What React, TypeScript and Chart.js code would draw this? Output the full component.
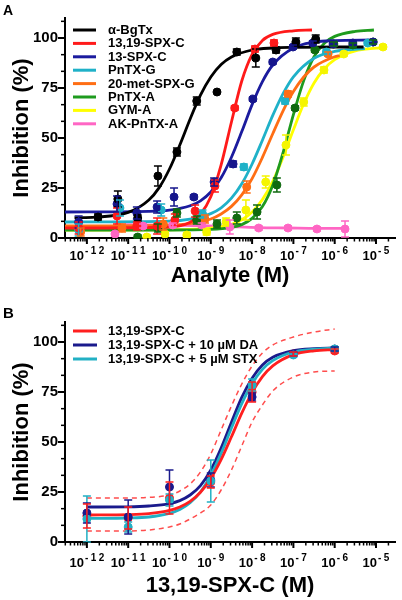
import React, { useEffect, useRef } from "react";
import { Chart, registerables } from "chart.js";

Chart.register(...registerables);

const FONT = "'Liberation Sans', Arial, Helvetica, sans-serif";

// ---------- shared axis values ----------
const xMinExp = -12.53;
const xMaxExp = -4.54;
const xTickExponents = [-12, -11, -10, -9, -8, -7, -6, -5];
const yTickValues = [0, 25, 50, 75, 100];
const yMinorStep = 25 / 3;
const yMax = 110;

// ---------- Panel A (x values are log10 of molar concentration) ----------
const seriesNamesA = ["α-BgTx", "13,19-SPX-C", "13-SPX-C", "PnTX-G", "20-met-SPX-G", "PnTX-A", "GYM-A", "AK-PnTX-A"];
const lineColorsA = ["#000000", "#ff1a1a", "#1b1b9e", "#1fb1c8", "#ff6e14", "#1e9b1e", "#ffff00", "#ff66c4"];
const pointColorsA = ["#000000", "#ff1a1a", "#16168c", "#1fb1c8", "#ff6e14", "#106a10", "#f5f500", "#ff66c4"];

// α-BgTx
const bgtxLogX = [-11.73, -11.25, -10.77, -10.28, -9.82, -9.34, -8.85, -8.37, -7.91, -7.42, -6.94, -6.46];
const bgtxY = [10.5, 19.5, 10, 31, 43, 68.5, 73, 93, 90, 94, 98, 99.5];
const bgtxErr = [1.5, 4, 1.5, 5, 2, 2, 0, 1.5, 4.5, 1.5, 2, 2];
const bgtxFitLogX = [-12.3, -11.8, -11, -10.5, -10.25, -10, -9.75, -9.5, -9.25, -9, -8.75, -8.5, -8, -7.5, -7, -6, -5.3];
const bgtxFitY = [10.1, 10.4, 12.8, 19, 25.2, 34.5, 46.5, 59.5, 71.4, 80.5, 86.7, 90.5, 94, 95, 95.3, 95.5, 95.5];

// 13,19-SPX-C
const spx1319LogX = [-12.2, -11.27, -10.79, -10.3, -9.87, -9.38, -8.9, -8.42, -7.93, -7.47];
const spx1319Y = [5, 11, 6, 6, 9, 13.5, 26, 65, 94.5, 97.5];
const spx1319Err = [3, 4, 2, 4, 3, 3, 3, 1, 1.5, 1.5];
const spx1319FitLogX = [-12.53, -10, -9.5, -9.25, -9, -8.75, -8.5, -8.25, -8, -7.75, -7.5, -7, -6.55];
const spx1319FitY = [5, 5.5, 7.9, 11.9, 20.6, 36.6, 58, 78.5, 91.8, 98.8, 101.8, 103.6, 104];

// 13-SPX-C
const spx13LogX = [-12.2, -11.27, -10.79, -10.3, -9.89, -9.41, -8.92, -8.46, -7.98, -7.5, -7.01, -6.53, -6.04, -5.56, -5.07];
const spx13Y = [8, 17, 12.5, 15.5, 20.5, 20.5, 28, 37, 69.5, 88, 95.5, 97.5, 97, 97.5, 98];
const spx13Err = [3, 4, 3, 3, 4.5, 1, 2, 1.5, 1, 1, 1, 1, 1, 1, 1];
const spx13FitLogX = [-12.53, -10.5, -10, -9.5, -9.25, -9, -8.75, -8.5, -8.25, -8, -7.75, -7.5, -7, -6.5, -6, -5.05];
const spx13FitY = [13, 13.3, 13.9, 16.1, 18.6, 23, 30.1, 40.4, 53.2, 66.7, 78.2, 86.5, 95, 97.9, 98.7, 99];

// PnTX-G
const pntxgLogX = [-12.2, -11.2, -10.2, -9.2, -8.2, -7.2, -6.2, -5.2];
const pntxgY = [4, 15, 14, 12, 35.5, 68.5, 93, 97.5];
const pntxgErr = [3, 4, 3, 2, 1.5, 1.5, 1, 1];
const pntxgFitLogX = [-12.53, -10, -9.5, -9, -8.75, -8.5, -8.25, -8, -7.75, -7.5, -7.25, -7, -6.5, -6, -5.27];
const pntxgFitY = [8, 8.4, 9.4, 12.2, 15.1, 19.9, 27.1, 37, 48.9, 61.3, 72.2, 80.6, 89.9, 93.3, 94.7];

// 20-met-SPX-G
const metspxLogX = [-12.15, -11.15, -10.15, -9.14, -8.13, -7.13, -6.16];
const metspxY = [3, 5, 7, 9.5, 25.5, 72, 92];
const metspxErr = [2, 2, 3, 2, 3, 1.5, 1];
const metspxFitLogX = [-12.53, -10, -9.5, -9, -8.75, -8.5, -8.25, -8, -7.75, -7.5, -7.25, -7, -6.75, -6.5, -6, -5.87];
const metspxFitY = [6, 6.4, 7.2, 9.5, 12, 15.8, 21.6, 29.7, 40.3, 52.1, 63.6, 73.2, 80.5, 85.5, 90.6, 91.2];

// PnTX-A
const pntxaLogX = [-10.77, -10.28, -9.82, -9.34, -8.85, -8.37, -7.88, -7.4, -6.96, -6.48, -6.02, -5.56, -5.07];
const pntxaY = [0.5, 5, 12.5, 9, 7, 10, 13, 26.5, 65, 94, 97, 96.5, 98];
const pntxaErr = [1, 2, 2, 2, 2, 3, 3.5, 3.5, 1, 1, 1, 1, 1];
const pntxaFitLogX = [-12.53, -10, -9, -8.5, -8.25, -8, -7.75, -7.5, -7.25, -7, -6.75, -6.5, -6.25, -6, -5.5, -5.05];
const pntxaFitY = [4, 4, 4.3, 5.3, 6.7, 9.8, 15.7, 26.4, 42.7, 61.7, 78.7, 90.6, 97.4, 100.8, 103.3, 104];

// GYM-A
const gymaLogX = [-10.55, -10.11, -9.58, -9.1, -8.63, -8.15, -7.67, -7.18, -6.75, -6.26, -5.78, -4.83];
const gymaY = [0.5, 2, 1.5, 3, 8, 14, 28, 46.5, 68, 84, 92, 95.5];
const gymaErr = [1, 1, 1, 1.5, 2, 5, 3, 5, 2, 1.5, 1, 1];
const gymaFitLogX = [-12.53, -10, -9, -8.5, -8.25, -8, -7.75, -7.5, -7.25, -7, -6.75, -6.5, -6.25, -6, -5.5, -5, -4.83];
const gymaFitY = [4, 4.1, 4.9, 6.8, 9.1, 13, 19.2, 28.3, 40.4, 54.1, 67.1, 77.5, 84.6, 89.2, 93.6, 94.9, 95.2];

// AK-PnTX-A
const akLogX = [-11.32, -10.64, -9.92, -9.22, -8.54, -7.84, -7.13, -6.43, -5.75];
const akY = [2, 6, 6.5, 6.5, 5.5, 5, 5, 4.5, 4.5];
const akErr = [1, 1, 1, 1, 3.5, 1, 1, 1, 4];
const akLineY = [6.8, 6.6, 6.4, 6.2, 5.7, 5.2, 5, 4.8, 4.8];

// ---------- Panel B ----------
const seriesNamesB = ["13,19-SPX-C", "13,19-SPX-C + 10 µM DA", "13,19-SPX-C + 5 µM STX"];
const colorsB = ["#ff1f1f", "#1a1a8c", "#22b0c4"];
const bandColorB = "#ff4d4d";
const logXB = [-12, -11, -10, -9, -8, -7, -6];
const ctrlY = [13, 12, 22, 30, 75, 94, 95.5];
const ctrlErr = [6, 5.5, 8, 3, 5, 1, 1];
const daY = [14.5, 12.5, 27.5, 31, 72.5, 94, 96.5];
const daErr = [5, 8.5, 8.5, 3.5, 2, 1, 1];
const stxY = [11.5, 7.5, 21, 30.5, 78.5, 93.5, 96.5];
const stxErr = [11.5, 2.5, 3, 10.5, 3, 1, 1];
const fitLogXB = [-12, -11, -10.5, -10, -9.75, -9.5, -9.25, -9, -8.75, -8.5, -8.25, -8, -7.75, -7.5, -7, -6.5, -6];
const ctrlFitY = [13.5, 13.7, 14.2, 15.8, 17.5, 20.3, 24.9, 31.8, 41.2, 52.6, 64.4, 74.8, 82.7, 88.1, 93.7, 95.6, 96.2];
const daFitY = [17.5, 17.6, 18, 19.2, 20.7, 23.5, 28.2, 36, 47, 59.9, 72.3, 81.9, 88.5, 92.4, 95.7, 96.7, 97];
const stxFitY = [11.8, 12, 12.5, 14.3, 16.2, 19.6, 25, 33.4, 44.3, 57, 69.2, 79.1, 86.3, 90.7, 95, 96.4, 97];
const upperBandY = [22, 22, 22.3, 23.5, 25.5, 29, 35, 44, 56, 68, 79, 88, 94.5, 98.5, 102.5, 105, 106.5];
const lowerBandY = [5.5, 5.5, 6, 7.5, 9, 11.5, 14.5, 18.5, 26, 36, 48, 60, 68.5, 75.5, 82.5, 85, 85.5];

// ---------- helpers ----------
const toPts = (ex: number[], ys: number[]) => ex.map((e, i) => ({ x: Math.pow(10, e), y: ys[i] }));

function curve(label: string, ex: number[], ys: number[], color: string, order = 2, dash: number[] = [], width = 2.8) {
  return {
    label, data: toPts(ex, ys), showLine: true, borderColor: color, backgroundColor: color,
    borderWidth: width, borderDash: dash, pointRadius: 0, pointHoverRadius: 0,
    cubicInterpolationMode: "monotone", fill: false, order,
  };
}
function pts(label: string, ex: number[], ys: number[], errs: number[], color: string) {
  return {
    label, data: toPts(ex, ys), showLine: false, pointRadius: 4, pointHoverRadius: 4,
    backgroundColor: color, borderColor: color, pointBorderWidth: 1, order: 1, errs,
  };
}

const errorBarPlugin = {
  id: "errbars",
  afterDatasetsDraw(chart: any) {
    const { ctx } = chart;
    const ys = chart.scales.y;
    chart.data.datasets.forEach((ds: any, i: number) => {
      if (!ds.errs) return;
      const meta = chart.getDatasetMeta(i);
      ctx.save();
      ctx.strokeStyle = ds.borderColor;
      ctx.lineWidth = 1.5;
      meta.data.forEach((el: any, j: number) => {
        const err = ds.errs[j];
        if (!err) return;
        const v = ds.data[j].y;
        const t = ys.getPixelForValue(v + err);
        const b = ys.getPixelForValue(Math.max(0, v - err));
        const x = el.x;
        ctx.beginPath();
        ctx.moveTo(x, t); ctx.lineTo(x, b);
        ctx.moveTo(x - 4, t); ctx.lineTo(x + 4, t);
        ctx.moveTo(x - 4, b); ctx.lineTo(x + 4, b);
        ctx.stroke();
      });
      ctx.restore();
    });
  },
};

const decorPlugin = {
  id: "decor",
  afterDraw(chart: any, _a: any, o: any) {
    const { ctx, chartArea: ca, scales } = chart;
    const xs = scales.x, ys = scales.y;
    ctx.save();
    ctx.strokeStyle = "#000";
    const seg = (x1: number, y1: number, x2: number, y2: number, w: number) => {
      ctx.lineWidth = w;
      ctx.beginPath(); ctx.moveTo(x1, y1); ctx.lineTo(x2, y2); ctx.stroke();
    };
    // y ticks
    for (const v of yTickValues) {
      const py = ys.getPixelForValue(v);
      seg(ca.left - 7, py, ca.left, py, 2);
    }
    for (let v = yMinorStep; v <= yMax + 0.01; v += yMinorStep) {
      if (Math.abs(v / 25 - Math.round(v / 25)) < 0.01) continue;
      const py = ys.getPixelForValue(v);
      seg(ca.left - 4, py, ca.left, py, 1.5);
    }
    // x ticks (log)
    for (let e = Math.floor(xMinExp); e <= Math.ceil(xMaxExp); e++) {
      for (let m = 1; m <= 9; m++) {
        const v = m * Math.pow(10, e);
        if (v < xs.min || v > xs.max) continue;
        const px = xs.getPixelForValue(v);
        if (m === 1) seg(px, ca.bottom, px, ca.bottom + 6, 2);
        else seg(px, ca.bottom, px, ca.bottom + 3.5, 1.5);
      }
    }
    // x tick labels 10^n
    ctx.fillStyle = "#000";
    ctx.textAlign = "left";
    ctx.textBaseline = "alphabetic";
    const baseFont = `bold 13px ${FONT}`;
    const expFont = `bold 10px ${FONT}`;
    const gap = 2.5;
    for (const e of xTickExponents) {
      const px = xs.getPixelForValue(Math.pow(10, e));
      const chars = String(e).split("");
      ctx.font = baseFont;
      const wb = ctx.measureText("10").width;
      ctx.font = expFont;
      const we = chars.reduce((s, c) => s + ctx.measureText(c).width, 0) + gap * (chars.length - 1);
      let cx = px - (wb + 1 + we) / 2;
      const by = ca.bottom + o.labelOffset;
      ctx.font = baseFont;
      ctx.fillText("10", cx, by);
      cx += wb + 1;
      ctx.font = expFont;
      for (const c of chars) {
        ctx.fillText(c, cx, by - 6);
        cx += ctx.measureText(c).width + gap;
      }
    }
    // legend
    const lg = o.legend;
    lg.labels.forEach((lab: string, i: number) => {
      const y = lg.y0 + i * lg.dy;
      ctx.strokeStyle = lg.colors[i];
      seg(lg.x0, y, lg.x1, y, 3);
      ctx.fillStyle = "#000";
      ctx.font = `bold 13px ${FONT}`;
      ctx.textBaseline = "middle";
      ctx.fillText(lab, lg.tx, y + 0.5);
    });
    // panel letter
    ctx.textBaseline = "alphabetic";
    ctx.font = `bold ${o.letterSize}px ${FONT}`;
    ctx.fillText(o.letter, 3, o.letterBaseline);
    ctx.restore();
  },
};

function makeConfig(datasets: any[], p: any) {
  return {
    type: "scatter",
    data: { datasets },
    plugins: [errorBarPlugin, decorPlugin],
    options: {
      responsive: false,
      animation: false,
      events: [],
      layout: { padding: { top: p.padTop, right: 7, left: 0, bottom: 0 } },
      plugins: {
        legend: { display: false },
        tooltip: { enabled: false },
        decor: p.decor,
      },
      scales: {
        x: {
          type: "logarithmic",
          position: "bottom",
          min: Math.pow(10, xMinExp),
          max: Math.pow(10, xMaxExp),
          border: { display: true, color: "#000", width: 2 },
          grid: { display: false, drawTicks: false },
          ticks: { display: false },
          title: {
            display: true, text: p.xTitle, color: "#000",
            font: { family: FONT, size: 22, weight: "bold" },
            padding: { top: 0, bottom: p.xTitlePad },
          },
          afterFit: (s: any) => { s.height = p.xHeight; },
        },
        y: {
          type: "linear",
          min: 0,
          max: yMax,
          border: { display: true, color: "#000", width: 2 },
          grid: { display: false, drawTicks: false },
          afterBuildTicks: (s: any) => { s.ticks = yTickValues.map((v) => ({ value: v })); },
          ticks: { color: "#000", font: { family: FONT, size: 15, weight: "bold" }, padding: 7 },
          title: {
            display: true, text: "Inhibition (%)", color: "#000",
            font: { family: FONT, size: 22, weight: "bold" },
            padding: { top: 9, bottom: 0 },
          },
          afterFit: (s: any) => { s.width = 65; },
        },
      },
    },
  };
}

function configA() {
  const c = lineColorsA, pc = pointColorsA, n = seriesNamesA;
  const datasets = [
    pts(n[0], bgtxLogX, bgtxY, bgtxErr, pc[0]),
    pts(n[1], spx1319LogX, spx1319Y, spx1319Err, pc[1]),
    pts(n[2], spx13LogX, spx13Y, spx13Err, pc[2]),
    pts(n[3], pntxgLogX, pntxgY, pntxgErr, pc[3]),
    pts(n[4], metspxLogX, metspxY, metspxErr, pc[4]),
    pts(n[5], pntxaLogX, pntxaY, pntxaErr, pc[5]),
    pts(n[6], gymaLogX, gymaY, gymaErr, pc[6]),
    pts(n[7], akLogX, akY, akErr, pc[7]),
    curve(n[0] + " fit", bgtxFitLogX, bgtxFitY, c[0]),
    curve(n[1] + " fit", spx1319FitLogX, spx1319FitY, c[1]),
    curve(n[2] + " fit", spx13FitLogX, spx13FitY, c[2]),
    curve(n[3] + " fit", pntxgFitLogX, pntxgFitY, c[3]),
    curve(n[4] + " fit", metspxFitLogX, metspxFitY, c[4]),
    curve(n[5] + " fit", pntxaFitLogX, pntxaFitY, c[5]),
    curve(n[6] + " fit", gymaFitLogX, gymaFitY, c[6]),
    curve(n[7] + " line", akLogX, akLineY, c[7]),
  ];
  return makeConfig(datasets, {
    padTop: 18, xHeight: 62, xTitle: "Analyte (M)", xTitlePad: 11,
    decor: {
      labelOffset: 22, letter: "A", letterSize: 14, letterBaseline: 15,
      legend: { labels: seriesNamesA, colors: lineColorsA, x0: 73, x1: 96, tx: 108, y0: 30, dy: 13.4 },
    },
  });
}

function configB() {
  const n = seriesNamesB, c = colorsB;
  const datasets = [
    pts(n[2], logXB, stxY, stxErr, c[2]),
    pts(n[1], logXB, daY, daErr, c[1]),
    pts(n[0], logXB, ctrlY, ctrlErr, c[0]),
    curve(n[0] + " fit", fitLogXB, ctrlFitY, c[0]),
    curve(n[2] + " fit", fitLogXB, stxFitY, c[2]),
    curve(n[1] + " fit", fitLogXB, daFitY, c[1]),
    curve(n[0] + " upper 95% band", fitLogXB, upperBandY, bandColorB, 3, [5, 4], 1.5),
    curve(n[0] + " lower 95% band", fitLogXB, lowerBandY, bandColorB, 3, [5, 4], 1.5),
  ];
  return makeConfig(datasets, {
    padTop: 22, xHeight: 58, xTitle: "13,19-SPX-C (M)", xTitlePad: 1,
    decor: {
      labelOffset: 25, letter: "B", letterSize: 15, letterBaseline: 18,
      legend: { labels: seriesNamesB, colors: colorsB, x0: 73, x1: 97, tx: 108, y0: 31, dy: 14 },
    },
  });
}

function ChartCanvas({ make, top }: { make: () => any; top: number }) {
  const ref = useRef<HTMLCanvasElement>(null);
  useEffect(() => {
    const chart = new Chart(ref.current as HTMLCanvasElement, make());
    return () => chart.destroy();
  }, [make]);
  return (
    <canvas
      ref={ref}
      width={402}
      height={300}
      style={{ position: "absolute", left: 0, top, width: 402, height: 300, display: "block" }}
    />
  );
}

export default function App() {
  return (
    <div style={{ position: "fixed", left: 0, top: 0, width: 402, height: 600, background: "#fff" }}>
      <ChartCanvas make={configA} top={0} />
      <ChartCanvas make={configB} top={300} />
    </div>
  );
}
